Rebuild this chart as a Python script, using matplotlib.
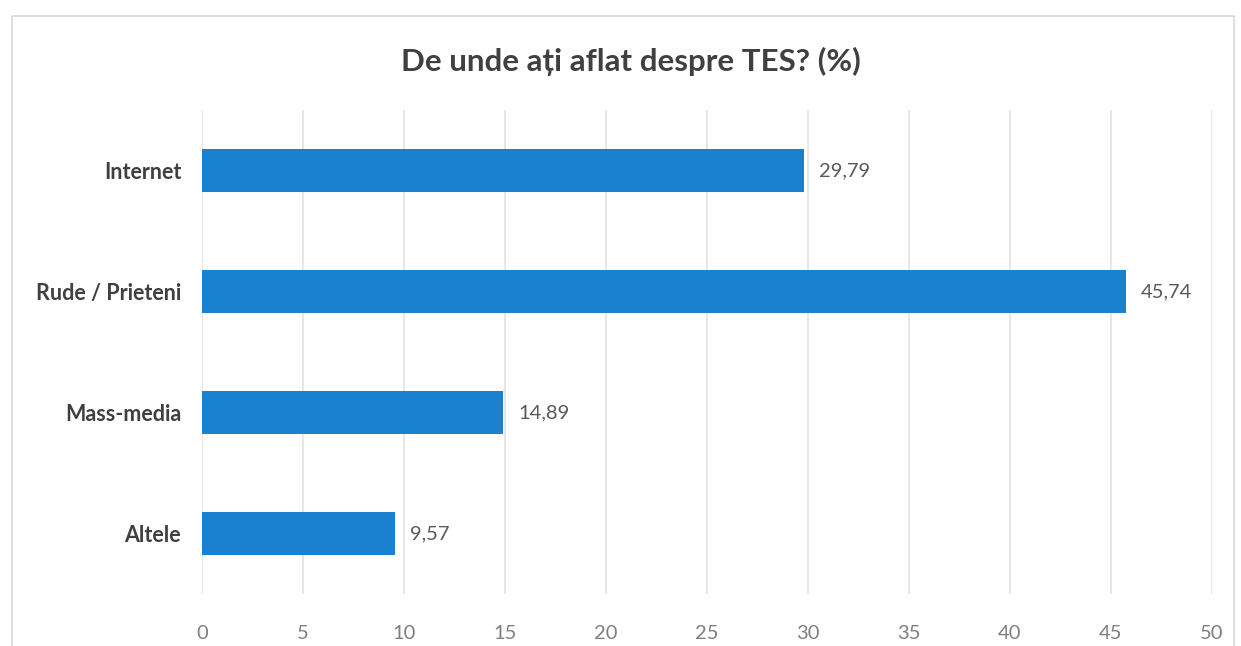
import matplotlib.pyplot as plt
from matplotlib.patches import Rectangle

categories = ["Internet", "Rude / Prieteni", "Mass-media", "Altele"]
values = [29.79, 45.74, 14.89, 9.57]
xticks = [0, 5, 10, 15, 20, 25, 30, 35, 40, 45, 50]

plt.rcParams['font.family'] = ['Lato', 'DejaVu Sans']

fig = plt.figure(figsize=(12.41, 6.46), dpi=100)
ax = fig.add_axes([0.1628, 0.0805, 0.8138, 0.7492])

# light frame around the chart area
fig.patches.append(Rectangle((0.0097, -0.01), 0.985, 0.985, transform=fig.transFigure,
                             fill=False, edgecolor='#d9d9d9', linewidth=1.2))

ypos = range(len(categories))
ax.barh(ypos, values, height=0.35, color='#1A80D0', zorder=3)

for y, v in zip(ypos, values):
    ax.text(v + 0.75, y, f"{v:.2f}".replace('.', ','), va='center', ha='left',
            fontsize=14.5, color='#595959')

ax.set_yticks(list(ypos))
ax.set_yticklabels(categories, fontsize=15.5, color='#404040', fontweight='bold')
ax.set_ylim(len(categories) - 0.5, -0.5)
ax.set_xlim(0, 50)
ax.set_xticks(xticks)
ax.set_xticklabels([str(t) for t in xticks], fontsize=14.5, color='#7f7f7f')
ax.tick_params(length=0)
ax.tick_params(axis='x', pad=22)
ax.tick_params(axis='y', pad=15)
ax.grid(axis='x', color='#e3e3e3', linewidth=1.2, zorder=0)
for s in ax.spines.values():
    s.set_visible(False)

fig.text(0.508, 0.905, "De unde ați aflat despre TES? (%)", ha='center', va='center',
         fontsize=22.5, fontweight='bold', color='#404040')

fig.savefig("out.png", dpi=100)
